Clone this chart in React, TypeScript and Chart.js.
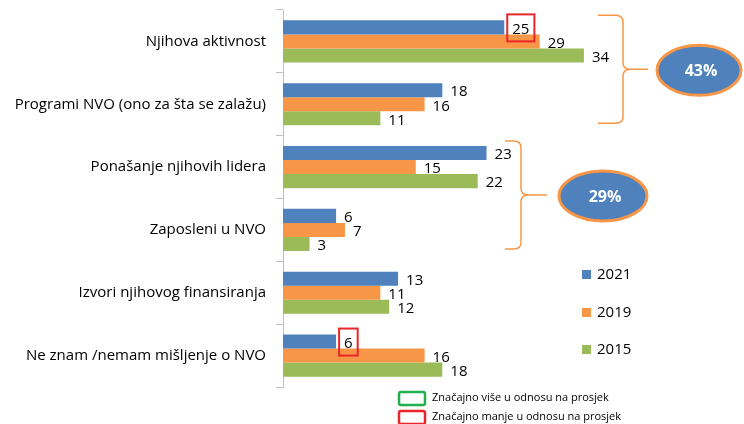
import React, { useEffect, useRef } from "react";
import { Chart, registerables } from "chart.js";

Chart.register(...registerables);

const categories = [
  "Njihova aktivnost",
  "Programi NVO (ono za šta se zalažu)",
  "Ponašanje njihovih lidera",
  "Zaposleni u NVO",
  "Izvori njihovog finansiranja",
  "Ne znam /nemam mišljenje o NVO",
];
const seriesNames = ["2021", "2019", "2015"];
const values2021 = [25, 18, 23, 6, 13, 6];
const values2019 = [29, 16, 15, 7, 11, 16];
const values2015 = [34, 11, 22, 3, 12, 18];
const seriesColors = ["#4f81bd", "#f79646", "#9bbb59"];
// [series index, category index] of values marked "significantly lower"
const lowMarks = [
  [0, 0],
  [0, 5],
];
const groupLabels = ["43%", "29%"];
const groupRanges = [
  [0, 1],
  [2, 3],
];
const noteLabels = [
  "Značajno više u odnosu na prosjek",
  "Značajno manje u odnosu na prosjek",
];

const FONT = "'Open Sans', 'DejaVu Sans', sans-serif";
const ORANGE = "#f79646";

function drawBrace(ctx: CanvasRenderingContext2D, xL: number, xV: number, xTip: number, top: number, bottom: number) {
  const mid = (top + bottom) / 2;
  const r = 7;
  ctx.beginPath();
  ctx.moveTo(xL, top);
  ctx.lineTo(xV - r, top);
  ctx.quadraticCurveTo(xV, top, xV, top + r);
  ctx.lineTo(xV, mid - r);
  ctx.quadraticCurveTo(xV, mid, xV + r, mid);
  ctx.lineTo(xTip, mid);
  ctx.moveTo(xV + r, mid);
  ctx.quadraticCurveTo(xV, mid, xV, mid + r);
  ctx.lineTo(xV, bottom - r);
  ctx.quadraticCurveTo(xV, bottom, xV - r, bottom);
  ctx.lineTo(xL, bottom);
  ctx.stroke();
}

const annotations = {
  id: "annotations",
  afterDatasetsDraw(chart: any) {
    const ctx: CanvasRenderingContext2D = chart.ctx;
    ctx.save();
    ctx.font = `15px ${FONT}`;
    ctx.textBaseline = "middle";
    ctx.textAlign = "left";
    chart.data.datasets.forEach((ds: any, i: number) => {
      const meta = chart.getDatasetMeta(i);
      meta.data.forEach((bar: any, j: number) => {
        const txt = String(ds.data[j]);
        const tx = bar.x + 8;
        const ty = bar.y + 2;
        ctx.fillStyle = "#000";
        ctx.fillText(txt, tx, ty);
        if (lowMarks.some(([s, c]) => s === i && c === j)) {
          const w = ctx.measureText(txt).width;
          ctx.strokeStyle = "#e8262b";
          ctx.lineWidth = 2;
          ctx.strokeRect(tx - 5, bar.y - 13, w + 10, 27);
        }
      });
    });

    // braces + ellipses
    const braceX = [
      [598, 623, 648],
      [505, 521, 547],
    ];
    const ellipses = [
      [699, 42, 25],
      [603, 44, 25],
    ];
    groupRanges.forEach(([a, b], k) => {
      const first = chart.getDatasetMeta(0).data[a];
      const last = chart.getDatasetMeta(2).data[b];
      const top = first.y - first.height / 2 - 5;
      const bottom = last.y + last.height / 2 - 2;
      ctx.strokeStyle = ORANGE;
      ctx.lineWidth = 1.5;
      const [xL, xV, xT] = braceX[k];
      drawBrace(ctx, xL, xV, xT, top, bottom);
      const mid = (top + bottom) / 2;
      const [cx, rx, ry] = ellipses[k];
      ctx.beginPath();
      ctx.ellipse(cx, mid + 1, rx, ry, 0, 0, Math.PI * 2);
      ctx.fillStyle = "#4f81bd";
      ctx.fill();
      ctx.lineWidth = 3;
      ctx.strokeStyle = ORANGE;
      ctx.stroke();
      ctx.fillStyle = "#fff";
      ctx.font = `bold 16px ${FONT}`;
      ctx.textAlign = "center";
      ctx.fillText(groupLabels[k], cx + 2, mid + 2);
      ctx.textAlign = "left";
    });

    // series legend
    ctx.font = `15px ${FONT}`;
    const legY = [275, 313, 350];
    seriesNames.forEach((n, i) => {
      ctx.fillStyle = seriesColors[i];
      ctx.fillRect(582, legY[i] - 5, 9, 9);
      ctx.fillStyle = "#000";
      ctx.fillText(n, 597, legY[i]);
    });

    // notes legend
    const noteColors = ["#22b14c", "#e8262b"];
    const noteY = [398, 417];
    ctx.font = `11px ${FONT}`;
    noteLabels.forEach((t, i) => {
      ctx.strokeStyle = noteColors[i];
      ctx.lineWidth = 2.5;
      ctx.beginPath();
      (ctx as any).roundRect(399, noteY[i] - 6, 26, 13, 2);
      ctx.stroke();
      ctx.fillStyle = "#000";
      ctx.fillText(t, 432, noteY[i]);
    });
    ctx.restore();
  },
};

export default function App() {
  const ref = useRef<HTMLCanvasElement>(null);
  useEffect(() => {
    if (!ref.current) return;
    const chart = new Chart(ref.current, {
      type: "bar",
      data: {
        labels: categories,
        datasets: [values2021, values2019, values2015].map((d, i) => ({
          label: seriesNames[i],
          data: d,
          backgroundColor: seriesColors[i],
          borderWidth: 0,
          categoryPercentage: 0.67,
          barPercentage: 1,
        })),
      },
      options: {
        indexAxis: "y",
        responsive: false,
        animation: false,
        devicePixelRatio: 1,
        layout: { padding: { left: 0, top: 10, bottom: 37, right: 107 } },
        plugins: { legend: { display: false }, tooltip: { enabled: false } },
        scales: {
          x: { display: false, min: 0, max: 40 },
          y: {
            grid: {
              display: true,
              drawOnChartArea: false,
              offset: true,
              tickLength: 7,
              color: "#bfbfbf",
            },
            border: { color: "#bfbfbf" },
            ticks: {
              font: { family: FONT, size: 15 },
              color: "#000",
              padding: 10,
            },
            afterFit(scale: any) {
              scale.width = 283;
              scale.paddingTop = 0;
              scale.paddingBottom = 0;
            },
          },
        },
      },
      plugins: [annotations],
    });
    return () => chart.destroy();
  }, []);
  return (
    <div style={{ position: "absolute", left: 0, top: 0, width: 744, height: 424, background: "#fff" }}>
      <canvas ref={ref} width={744} height={424} />
    </div>
  );
}
